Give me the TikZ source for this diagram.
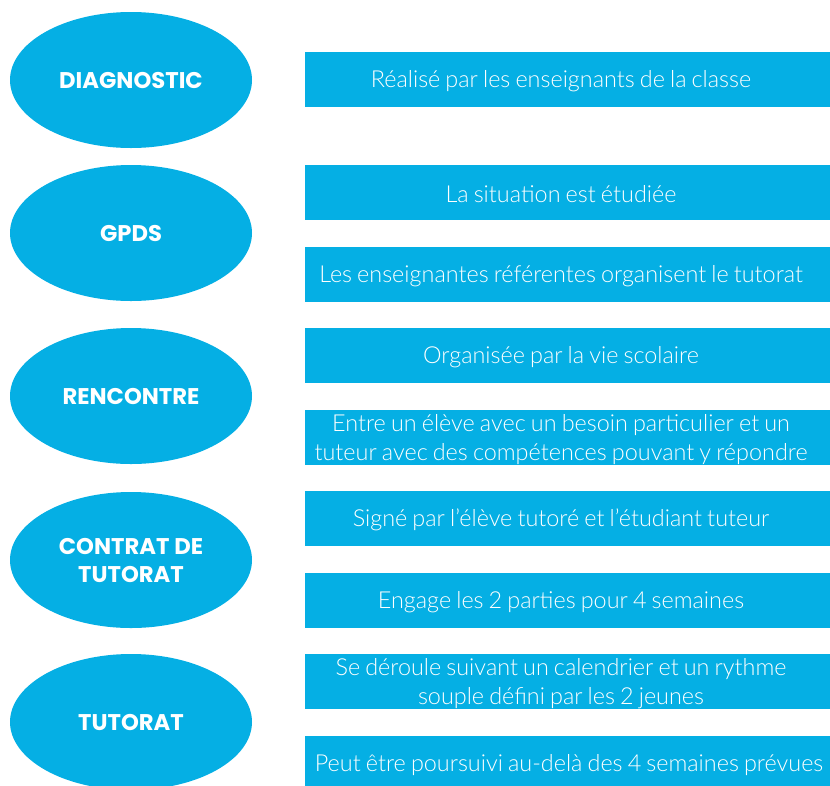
\documentclass[tikz,border=0pt]{standalone}
\usepackage{fontspec}
\usetikzlibrary{shapes.geometric}
\setmainfont{Lato}
\newfontfamily\bodyfont{Lato}[UprightFont={* Light}, WordSpace={0.8}]
\newfontfamily\lblfont{Poppins}[UprightFont={* Bold}]
\definecolor{blu}{RGB}{5,175,228}
\tikzset{
  oval/.style={ellipse, fill=blu, minimum width=242pt, minimum height=136pt, inner sep=0pt,
    text=white, align=center, font=\lblfont\fontsize{22.7}{28}\selectfont},
  bar/.style={rectangle, fill=blu, minimum width=540pt, minimum height=55pt, inner sep=0pt, anchor=north west},
  bartext/.style={text=white, align=center, inner sep=0pt, yshift=-1.5pt, font=\bodyfont\fontsize{23.4}{29}\selectfont}
}
\begin{document}
\begin{tikzpicture}[x=1pt,y=-1pt]
\useasboundingbox (0,0) rectangle (830,785);
\clip (0,0) rectangle (830,785);
% ellipses
\node[oval] (e1) at (131,80) {DIAGNOSTIC};
\node[oval] (e2) at (131,233) {GPDS};
\node[oval] (e3) at (131,396) {RENCONTRE};
\node[oval] (e4) at (131,560) {CONTRAT DE\\TUTORAT};
\node[oval] (e5) at (131,722) {TUTORAT};
% bars
\node[bar] (r1) at (305,52) {};
\node[bar] (r2) at (305,165) {};
\node[bar] (r3) at (305,247) {};
\node[bar] (r4) at (305,328) {};
\node[bar] (r5) at (305,410) {};
\node[bar] (r6) at (305,491) {};
\node[bar] (r7) at (305,573) {};
\node[bar] (r8) at (305,654) {};
\node[bar] (r9) at (305,736) {};
% texts
\node[bartext] (t1) at ([xshift=256pt]r1.west) {Réalisé par les enseignants de la classe};
\node[bartext] (t2) at ([xshift=256pt]r2.west) {La situation est étudiée};
\node[bartext] (t3) at ([xshift=256pt]r3.west) {Les enseignantes référentes organisent le tutorat};
\node[bartext] (t4) at ([xshift=256pt]r4.west) {Organisée par la vie scolaire};
\node[bartext] (t5) at ([xshift=256pt]r5.west) {Entre un élève avec un besoin particulier et un\\tuteur avec des compétences pouvant y répondre};
\node[bartext] (t6) at ([xshift=256pt]r6.west) {Signé par l’élève tutoré et l’étudiant tuteur};
\node[bartext] (t7) at ([xshift=256pt]r7.west) {Engage les 2 parties pour 4 semaines};
\node[bartext] (t8) at ([xshift=256pt]r8.west) {Se déroule suivant un calendrier et un rythme\\souple défini par les 2 jeunes};
\node[bartext] (t9) at ([xshift=264pt]r9.west) {Peut être poursuivi au-delà des 4 semaines prévues};
\end{tikzpicture}
\end{document}
